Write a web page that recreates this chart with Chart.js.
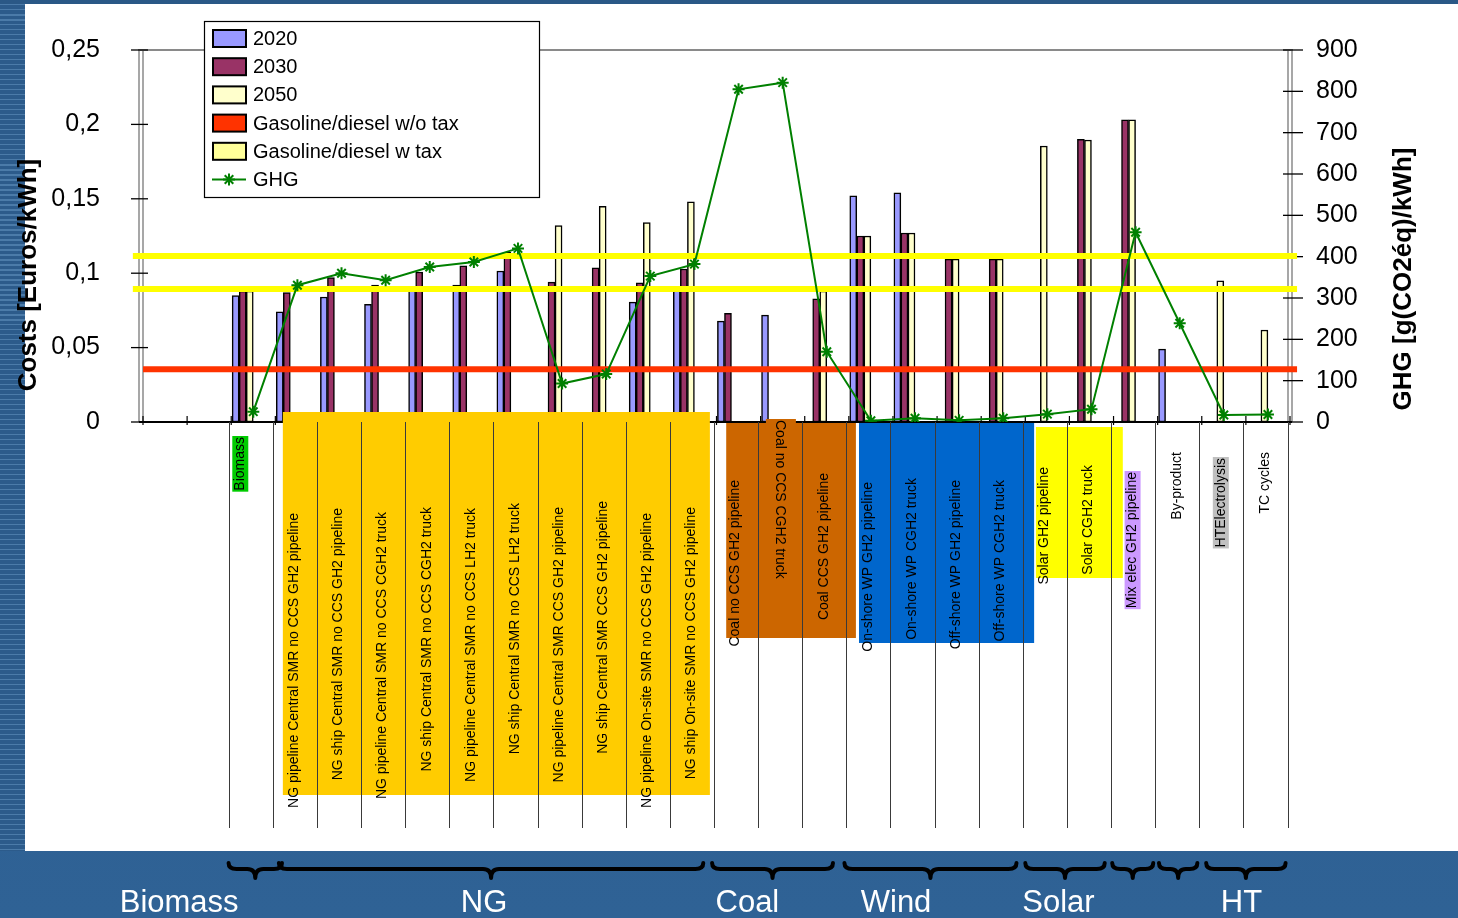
<!DOCTYPE html>
<html>
<head>
<meta charset="utf-8">
<title>Hydrogen pathways: costs and GHG</title>
<script src="https://cdn.jsdelivr.net/npm/chart.js@4.4.1/dist/chart.umd.min.js"></script>
<style>
  html, body { margin: 0; padding: 0; }
  body { width: 1458px; height: 918px; overflow: hidden; position: relative;
         background: linear-gradient(180deg, #2a5886 0%, #2d5e91 55%, #2f6295 100%); }
  #stripes { position: absolute; left: 0; top: 4px; width: 25px; height: 847px;
             background: repeating-linear-gradient(180deg, #4b7ba9 0px, #4b7ba9 1.5px, #2c5b8b 1.5px, #2c5b8b 5px); }
  #panel { position: absolute; left: 25px; top: 4px; width: 1433px; height: 847px; background: #fff; }
  #wrap { position: absolute; left: 0; top: 0; width: 1458px; height: 918px; }
</style>
</head>
<body>
<div id="stripes"></div>
<div id="panel"></div>
<div id="wrap"><canvas id="myChart" width="1458" height="918"></canvas></div>
<script>
var categories = ['', '', 'Biomass',
    'NG pipeline Central SMR no CCS GH2 pipeline',
    'NG ship Central SMR no CCS GH2 pipeline',
    'NG pipeline Central SMR no CCS CGH2 truck',
    'NG ship Central SMR no CCS CGH2 truck',
    'NG pipeline Central SMR no CCS LH2 truck',
    'NG ship Central SMR no CCS LH2 truck',
    'NG pipeline Central SMR CCS GH2 pipeline',
    'NG ship Central SMR CCS GH2 pipeline',
    'NG pipeline On-site SMR no CCS GH2 pipeline',
    'NG ship On-site SMR no CCS GH2 pipeline',
    'Coal no CCS GH2 pipeline',
    'Coal no CCS CGH2 truck',
    'Coal CCS GH2 pipeline',
    'On-shore WP GH2 pipeline',
    'On-shore WP CGH2 truck',
    'Off-shore WP GH2 pipeline',
    'Off-shore WP CGH2 truck',
    'Solar GH2 pipeline',
    'Solar CGH2 truck',
    'Mix elec GH2 pipeline',
    'By-product',
    'HTElectrolysis',
    'TC cycles'];

// costs in Euros/kWh
var cost2020 = [null, null, 0.085, 0.074, 0.084, 0.079, 0.089, 0.092, 0.1015, null, null, 0.0806, 0.089,
    0.0678, 0.0718, null, 0.152, 0.154, null, null, null, null, null, 0.049, null, null];
var cost2030 = [null, null, 0.088, 0.087, 0.097, 0.092, 0.1008, 0.105, 0.114, 0.094, 0.1036, 0.0936, 0.1028,
    0.073, null, 0.0827, 0.125, 0.127, 0.1095, 0.1095, null, 0.190, 0.203, null, null, null];
var cost2050 = [null, null, 0.088, null, null, null, null, null, null, 0.132, 0.145, 0.134, 0.148,
    null, null, 0.088, 0.125, 0.127, 0.1095, 0.1095, 0.1855, 0.1895, 0.203, null, 0.0948, 0.0618];

// g(CO2eq)/kWh
var ghg = [null, null, 25, 331, 360, 343, 375, 387, 420, 93, 116, 353, 382,
    805, 821, 170, 3, 9, 4, 9, 19, 31, 459, 239, 17, 18];

// reference fuel prices (Euros/kWh)
var gasNoTax = [0.0355];
var gasTax = [0.1116, 0.0893];

var seriesNames = ['2020', '2030', '2050', 'Gasoline/diesel w/o tax', 'Gasoline/diesel w tax', 'GHG'];
var leftTickLabels = ['0', '0,05', '0,1', '0,15', '0,2', '0,25'];
var rightTickLabels = ['0', '100', '200', '300', '400', '500', '600', '700', '800', '900'];
var groupNames = ['Biomass', 'NG', 'Coal', 'Wind', 'Solar', 'HT'];

// --- drawing layout (category units / pixels) ---
// the worksheet reserves six column slots per category, the three years use the left half
var slotShift = [-0.4, -0.24, -0.08];
var namePos = [0.82, 7.73, 13.7, 17.07, 20.75, 24.9];
var braceSpans = [[1.94, 3.15], [3.08, 12.7], [12.9, 15.64], [15.9, 19.8], [20.0, 21.8],
    [21.97, 22.9], [23.03, 23.9], [24.1, 25.9]];
var groupBoxes = [
    {from: 3.17, to: 12.85, top: 412, bottom: 795, color: '#FFCC00'},
    {from: 13.22, to: 16.16, top: 423, bottom: 638, color: '#CC6600'},
    {from: 14.12, to: 14.8, top: 419, bottom: 430, color: '#CC6600'},
    {from: 16.23, to: 20.2, top: 423, bottom: 643, color: '#0066CC'},
    {from: 20.24, to: 22.21, top: 427, bottom: 578, color: '#FFFF00'}
];
var labelTop = [0, 0, 437, 513, 508, 512, 507, 508, 503, 507, 501, 513, 507,
    480, 420, 473, 482, 478, 480, 480, 467, 465, 472, 452, 458, 452];
var labelHighlight = {2: '#00CC00', 22: '#CC99FF', 24: '#C0C0C0'};
var labelShift = {2: -10};
var labelDown = {14: true};

var barColors = ['#9999FF', '#993366', '#FFFFCC'];
var legendSwatch = ['#9999FF', '#993366', '#FFFFCC', '#FF3300', '#FFFF99'];
var FONT = '"Liberation Sans", Arial, sans-serif';

Chart.defaults.font.family = FONT;
Chart.defaults.color = '#000';

var datasets = [];
[cost2020, cost2030, cost2050].forEach(function (values, s) {
    var pts = [];
    values.forEach(function (v, k) {
        if (v !== null) pts.push({x: k + 0.5 + slotShift[s], y: v});
    });
    datasets.push({
        type: 'bar', label: seriesNames[s], data: pts,
        backgroundColor: barColors[s], borderColor: '#000', borderWidth: 1.5,
        borderSkipped: false, grouped: false, barThickness: 7,
        xAxisID: 'xh', yAxisID: 'y', order: 3
    });
});
gasNoTax.forEach(function (v) {
    datasets.push({
        type: 'line', label: seriesNames[3], data: [{x: 0, y: v}, {x: 26.16, y: v}],
        borderColor: '#FF3300', borderWidth: 6, pointRadius: 0,
        xAxisID: 'xh', yAxisID: 'y', order: 2, clip: false
    });
});
gasTax.forEach(function (v) {
    datasets.push({
        type: 'line', label: seriesNames[4], data: [{x: -0.23, y: v}, {x: 26.16, y: v}],
        borderColor: '#FFFF00', borderWidth: 6, pointRadius: 0,
        xAxisID: 'xh', yAxisID: 'y', order: 2, clip: false
    });
});
datasets.push({
    type: 'line', label: seriesNames[5], data: ghg,
    borderColor: '#008000', borderWidth: 2, tension: 0,
    pointStyle: 'star', pointRadius: 6, pointBorderWidth: 2,
    pointBorderColor: '#008000', pointBackgroundColor: '#008000',
    xAxisID: 'x', yAxisID: 'y2', order: 1
});

function line(ctx, x0, y0, x1, y1) {
    ctx.beginPath(); ctx.moveTo(x0, y0); ctx.lineTo(x1, y1); ctx.stroke();
}

function vtext(ctx, text, x, y) {
    ctx.save();
    ctx.translate(x, y);
    ctx.rotate(-Math.PI / 2);
    ctx.textAlign = 'center';
    ctx.textBaseline = 'middle';
    ctx.fillText(text, 0, 0);
    ctx.restore();
}

function star(ctx, x, y, r) {
    line(ctx, x - r, y, x + r, y);
    line(ctx, x, y - r, x, y + r);
    var d = r * 0.72;
    line(ctx, x - d, y - d, x + d, y + d);
    line(ctx, x - d, y + d, x + d, y - d);
}

function brace(ctx, x0, x1, y) {
    var xm = (x0 + x1) / 2, r = Math.min(8, (x1 - x0) / 5);
    ctx.beginPath();
    ctx.moveTo(x0, y - 6);
    ctx.quadraticCurveTo(x0, y, x0 + r, y);
    ctx.lineTo(xm - r, y);
    ctx.quadraticCurveTo(xm, y, xm, y + 9);
    ctx.quadraticCurveTo(xm, y, xm + r, y);
    ctx.lineTo(x1 - r, y);
    ctx.quadraticCurveTo(x1, y, x1, y - 6);
    ctx.stroke();
}

// plot frame, axis lines and tick marks (Excel style, crossing the axes)
var frame = {
    id: 'frame',
    beforeDatasetsDraw: function (chart) {
        var ctx = chart.ctx, a = chart.chartArea;
        var y = chart.scales.y, y2 = chart.scales.y2, xh = chart.scales.xh;
        ctx.save();
        ctx.strokeStyle = '#8a8a8a';
        ctx.lineWidth = 2;
        line(ctx, a.left - 5, a.top, a.right + 3, a.top);
        [a.left - 4, a.left, a.right - 2, a.right + 2].forEach(function (x) {
            ctx.lineWidth = 1.5;
            line(ctx, x, a.top, x, a.bottom);
        });
        ctx.strokeStyle = '#000';
        ctx.lineWidth = 1.3;
        y.ticks.forEach(function (t) {
            var py = y.getPixelForValue(t.value);
            line(ctx, a.left - 12, py, a.left + 5, py);
        });
        y2.ticks.forEach(function (t) {
            var py = y2.getPixelForValue(t.value);
            line(ctx, a.right - 7, py, a.right + 13, py);
        });
        ctx.lineWidth = 2;
        line(ctx, a.left - 4, a.bottom, a.right + 2, a.bottom);
        ctx.lineWidth = 1.2;
        for (var k = 0; k <= categories.length; k++) {
            var px = xh.getPixelForValue(k);
            line(ctx, px, a.bottom - 6, px, a.bottom + 3);
        }
        ctx.restore();
    }
};

// category labels, coloured boxes, braces and group names below the axis
var lower = {
    id: 'lower',
    afterDraw: function (chart) {
        var ctx = chart.ctx, a = chart.chartArea;
        var xh = chart.scales.xh, xc = chart.scales.x;
        ctx.save();
        groupBoxes.forEach(function (b) {
            var x0 = xh.getPixelForValue(b.from), x1 = xh.getPixelForValue(b.to);
            ctx.fillStyle = b.color;
            ctx.fillRect(x0, b.top, x1 - x0, b.bottom - b.top);
        });
        ctx.strokeStyle = '#3a3a3a';
        ctx.lineWidth = 1;
        for (var k = 2; k <= categories.length; k++) {
            var px = Math.round(xh.getPixelForValue(k) - 2.5) + 0.5;
            line(ctx, px, a.bottom, px, 828);
        }
        ctx.font = '14px ' + FONT;
        ctx.textBaseline = 'middle';
        categories.forEach(function (label, i) {
            if (!label) return;
            var cx = xc.getPixelForValue(i) - 3 + (labelShift[i] || 0);
            var top = labelTop[i];
            var w = ctx.measureText(label).width;
            if (labelHighlight[i]) {
                ctx.fillStyle = labelHighlight[i];
                ctx.fillRect(cx - 8, top - 1, 16, w + 2);
            }
            ctx.fillStyle = '#000';
            ctx.save();
            ctx.translate(cx, top);
            if (labelDown[i]) {
                ctx.rotate(Math.PI / 2);
                ctx.textAlign = 'left';
            } else {
                ctx.rotate(-Math.PI / 2);
                ctx.textAlign = 'right';
            }
            ctx.fillText(label, 0, 0);
            ctx.restore();
        });
        ctx.strokeStyle = '#000';
        ctx.lineWidth = 4;
        ctx.lineCap = 'round';
        ctx.lineJoin = 'round';
        braceSpans.forEach(function (sp) {
            brace(ctx, xh.getPixelForValue(sp[0]), xh.getPixelForValue(sp[1]), 869);
        });
        ctx.fillStyle = '#fff';
        ctx.font = '31px ' + FONT;
        ctx.textAlign = 'center';
        ctx.textBaseline = 'alphabetic';
        groupNames.forEach(function (n, i) {
            ctx.fillText(n, xh.getPixelForValue(namePos[i]), 912);
        });
        ctx.restore();
    }
};

var legendBox = {
    id: 'legendBox',
    afterDraw: function (chart) {
        var ctx = chart.ctx;
        var x0 = 204, y0 = 21, w = 335, h = 176;
        ctx.save();
        ctx.fillStyle = '#fff';
        ctx.fillRect(x0, y0, w, h);
        ctx.strokeStyle = '#000';
        ctx.lineWidth = 1.2;
        ctx.strokeRect(x0 + 0.5, y0 + 0.5, w, h);
        ctx.font = '20px ' + FONT;
        ctx.textBaseline = 'middle';
        ctx.textAlign = 'left';
        seriesNames.forEach(function (name, i) {
            var cy = 38.5 + i * 28.2;
            if (i < legendSwatch.length) {
                ctx.fillStyle = legendSwatch[i];
                ctx.fillRect(213, cy - 8.5, 33, 17);
                ctx.strokeStyle = '#000';
                ctx.lineWidth = 2;
                ctx.strokeRect(213, cy - 8.5, 33, 17);
            } else {
                ctx.strokeStyle = '#008000';
                ctx.lineWidth = 2;
                line(ctx, 212, cy, 246, cy);
                star(ctx, 229, cy, 6);
            }
            ctx.fillStyle = '#000';
            ctx.fillText(name, 253, cy + 1);
        });
        ctx.restore();
    }
};

var axisTitles = {
    id: 'axisTitles',
    afterDraw: function (chart) {
        var ctx = chart.ctx;
        ctx.save();
        ctx.fillStyle = '#000';
        ctx.font = 'bold 26px ' + FONT;
        vtext(ctx, 'Costs [Euros/kWh]', 29, 275);
        vtext(ctx, 'GHG [g(CO2éq)/kWh]', 1404, 279);
        ctx.restore();
    }
};

var ctx = document.getElementById('myChart').getContext('2d');
var myChart = new Chart(ctx, {
    type: 'bar',
    data: {
        labels: categories,
        datasets: datasets
    },
    options: {
        responsive: false,
        animation: false,
        devicePixelRatio: 1,
        layout: {
            padding: {left: 0, right: 0, top: 50, bottom: 496}
        },
        plugins: {
            legend: {display: false},
            tooltip: {enabled: false}
        },
        scales: {
            x: {
                type: 'category',
                offset: true,
                display: false
            },
            xh: {
                type: 'linear',
                axis: 'x',
                position: 'bottom',
                offset: false,
                grid: {offset: false},
                min: 0,
                max: 26,
                display: false
            },
            y: {
                position: 'left',
                min: 0,
                max: 0.25,
                grid: {display: false, drawTicks: true, tickLength: 43},
                border: {display: false},
                ticks: {
                    stepSize: 0.05,
                    padding: 0,
                    font: {size: 25},
                    callback: function (v, i) { return leftTickLabels[i]; }
                },
                afterFit: function (scale) { scale.width = 143; }
            },
            y2: {
                position: 'right',
                min: 0,
                max: 900,
                grid: {display: false, drawTicks: true, tickLength: 26},
                border: {display: false},
                ticks: {
                    stepSize: 100,
                    padding: 0,
                    font: {size: 25},
                    callback: function (v, i) { return rightTickLabels[i]; }
                },
                afterFit: function (scale) { scale.width = 168; }
            }
        }
    },
    plugins: [frame, lower, legendBox, axisTitles]
});
</script>
</body>
</html>
